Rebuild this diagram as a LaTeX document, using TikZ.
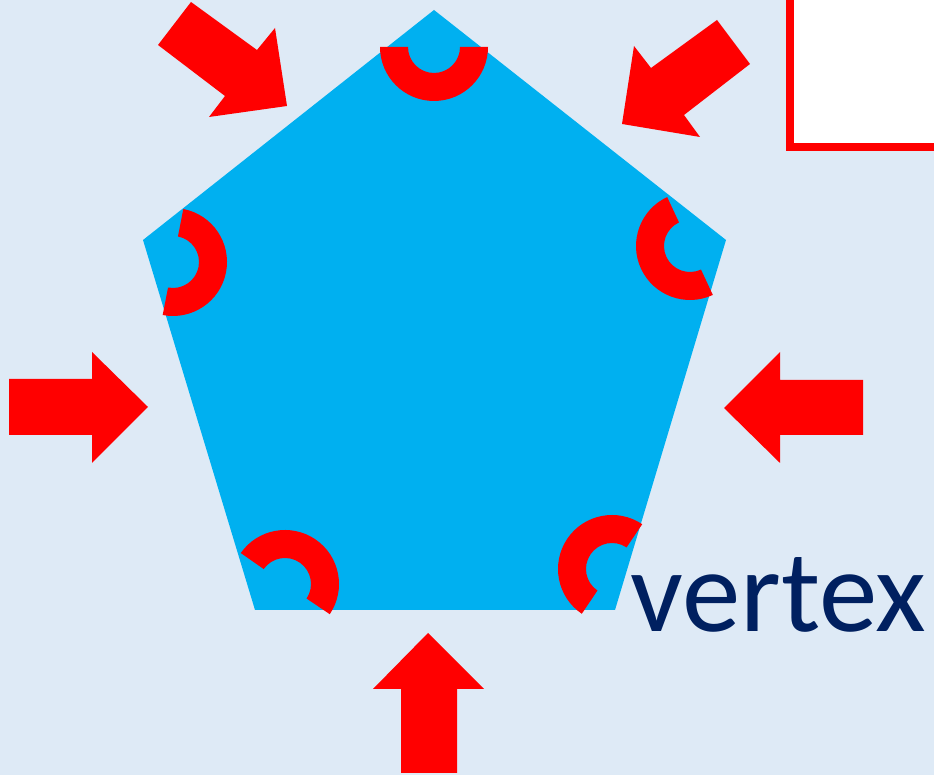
\documentclass[tikz,border=0pt]{standalone}
\usepackage{fontspec}
\setmainfont{Carlito}
\definecolor{bgblue}{HTML}{DEEAF6}
\definecolor{penta}{HTML}{00B0F0}
\definecolor{navy}{HTML}{002060}
\begin{document}
\begin{tikzpicture}[x=1pt,y=1pt,
  redshape/.style={fill=red,draw=none},
  marker/.style={fill=red,draw=none}]
\useasboundingbox (0,0) rectangle (934,775);
\fill[bgblue] (0,0) rectangle (934,775);
% white box top right
\draw[red,line width=8pt,fill=white] (790,628) rectangle (950,790);
% pentagon
\fill[penta] (434,765) -- (726,535) -- (615,165) -- (255,165) -- (143,535) -- cycle;
% angle markers
\def\mk#1#2#3#4{\fill[marker] (#1,#2) ++(#3:54) arc[start angle=#3,end angle=#4,radius=54] -- ++(#4+180:28) arc[start angle=#4,end angle=#3,radius=26] -- cycle;}
\mk{434}{728}{180}{360}
\mk{173}{513}{-101}{79}
\mk{690}{529}{115}{295}
\mk{285}{191}{-34}{145}
\mk{612}{206}{56}{236}
% arrows
\fill[redshape] (158,730) -- (191,773) -- (257,725) -- (275,747) -- (287,669) -- (209,658) -- (225,679) -- cycle;
\fill[redshape] (717,755) -- (750,711) -- (684,660) -- (700,638) -- (622,651) -- (634,729) -- (651,707) -- cycle;
\fill[redshape] (9,396) -- (92,396) -- (92,423) -- (148,368) -- (92,312) -- (92,340) -- (9,340) -- cycle;
\fill[redshape] (863,395) -- (780,395) -- (780,423) -- (724,367) -- (780,312) -- (780,340) -- (863,340) -- cycle;
\fill[redshape] (401,2) -- (457,2) -- (457,86) -- (484,86) -- (428,142) -- (373,86) -- (401,86) -- cycle;
% label
\node[anchor=base west,inner sep=0pt,text=navy,font=\fontsize{117}{120}\selectfont] (vlabel) at (630,143) {vertex};
\end{tikzpicture}
\end{document}
